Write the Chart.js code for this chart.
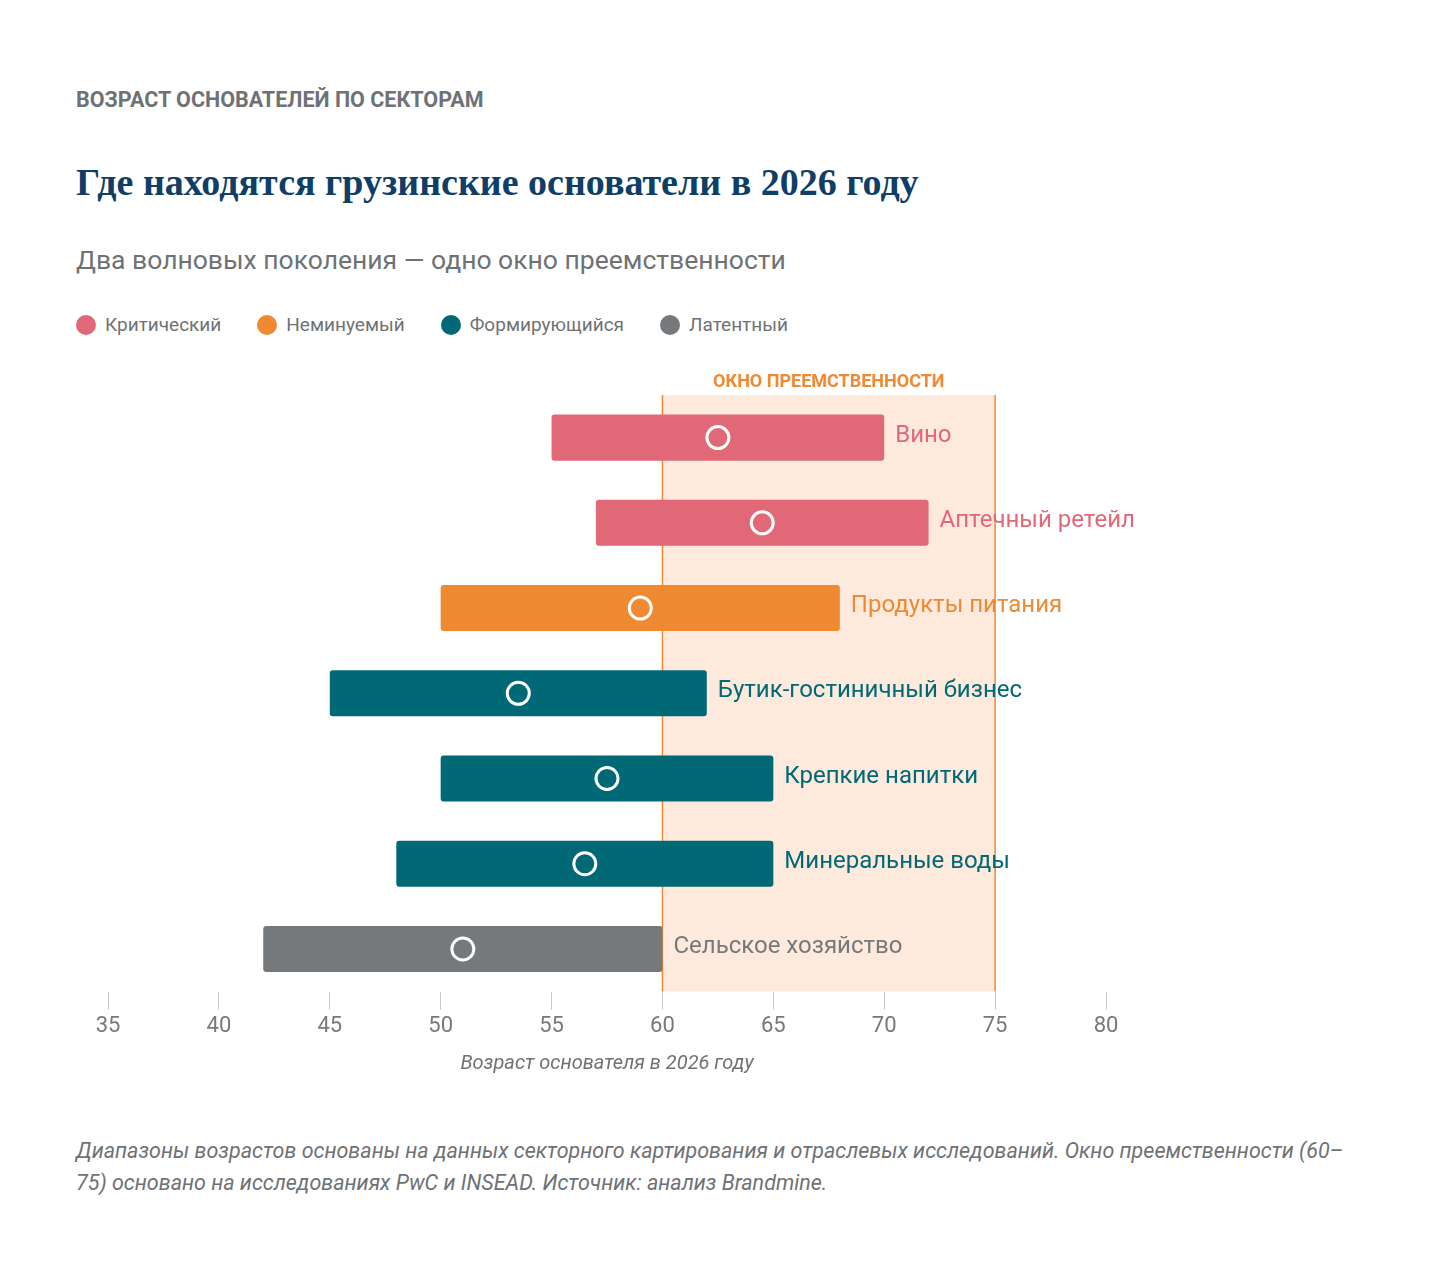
<!DOCTYPE html>
<html><head><meta charset="utf-8">
<script src="https://cdn.jsdelivr.net/npm/chart.js@4"></script>
<style>
body{margin:0;background:#fff;font-family:Roboto,"Noto Sans",sans-serif;}
#wrap{position:relative;width:1436px;height:1282px;}
.t{position:absolute;left:76px;white-space:nowrap;}
#kick{top:87px;font-size:21.5px;font-weight:700;color:#6f7275;}
#title{top:160px;font-family:"Liberation Serif",serif;font-size:38px;font-weight:700;color:#0f3e67;}
#sub{top:244px;font-size:26.5px;color:#6f7275;}
#legend{top:313px;font-size:19px;color:#6f7275;display:flex;gap:36px;}
#legend span{display:flex;align-items:center;}
#legend i{display:inline-block;width:20px;height:20px;border-radius:50%;margin-right:9px;}
#foot{top:1135px;font-size:21.5px;font-style:italic;color:#6f7275;line-height:32px;white-space:normal;width:1290px;}
</style></head><body><div id="wrap">
<div class="t" id="kick">ВОЗРАСТ ОСНОВАТЕЛЕЙ ПО СЕКТОРАМ</div>
<div class="t" id="title">Где находятся грузинские основатели в 2026 году</div>
<div class="t" id="sub">Два волновых поколения — одно окно преемственности</div>
<div class="t" id="legend"></div>
<div style="position:absolute;left:0;top:360px;width:1436px;height:720px"><canvas id="cv"></canvas></div>
<div class="t" id="foot">Диапазоны возрастов основаны на данных секторного картирования и отраслевых исследований. Окно преемственности (60–75) основано на исследованиях PwC и INSEAD. Источник: анализ Brandmine.</div>
</div>
<script>
const sectors=["Вино","Аптечный ретейл","Продукты питания","Бутик-гостиничный бизнес","Крепкие напитки","Минеральные воды","Сельское хозяйство"];
const minAge=[55,57,50,45,50,48,42];
const maxAge=[70,72,68,62,65,65,60];
const median=[62.5,64.5,59,53.5,57.5,56.5,51];
const group=[0,0,1,2,2,2,3];
const groupNames=["Критический","Неминуемый","Формирующийся","Латентный"];
const groupColors=["#e06877","#ef8a32","#016875","#76797b"];
const windowRange=[60,75];
const xTicks=[35,40,45,50,55,60,65,70,75,80];

document.getElementById('legend').innerHTML=groupNames.map((n,i)=>`<span><i style="background:${groupColors[i]}"></i>${n}</span>`).join('');

const windowPlugin={id:'win',beforeDatasetsDraw(c){
  const {ctx,chartArea:a,scales:{x}}=c;
  const x0=x.getPixelForValue(windowRange[0]),x1=x.getPixelForValue(windowRange[1]);
  ctx.save();ctx.fillStyle='#fdeadc';ctx.fillRect(x0,a.top,x1-x0,a.bottom-a.top);
  ctx.strokeStyle='#ef8a32';ctx.lineWidth=1.5;
  ctx.beginPath();ctx.moveTo(x0,a.top);ctx.lineTo(x0,a.bottom);ctx.moveTo(x1,a.top);ctx.lineTo(x1,a.bottom);ctx.stroke();
  ctx.fillStyle='#ef8a32';ctx.font='bold 18px Roboto';ctx.textAlign='center';ctx.textBaseline='bottom';
  ctx.fillText('ОКНО ПРЕЕМСТВЕННОСТИ',(x0+x1)/2,a.top-4);ctx.restore();
},afterDatasetsDraw(c){
  const {ctx,scales:{x,y}}=c;ctx.save();ctx.font='24px Roboto';ctx.textBaseline='middle';ctx.textAlign='left';
  sectors.forEach((s,i)=>{ctx.fillStyle=groupColors[group[i]];ctx.fillText(s,x.getPixelForValue(maxAge[i])+11,y.getPixelForValue(i)-2);});
  ctx.restore();
}};

new Chart(document.getElementById('cv'),{
  data:{labels:sectors,datasets:[
    {type:'line',data:median.map((m,i)=>({x:m,y:sectors[i]})),showLine:false,pointRadius:11,pointHoverRadius:11,pointBorderWidth:3,pointBorderColor:'#fff',pointBackgroundColor:'rgba(0,0,0,0)',order:0},
    {type:'bar',data:minAge.map((m,i)=>[m,maxAge[i]]),backgroundColor:group.map(g=>groupColors[g]),borderRadius:3,borderSkipped:false,barPercentage:0.54,categoryPercentage:1,order:1}
  ]},
  plugins:[windowPlugin],
  options:{indexAxis:'y',responsive:true,maintainAspectRatio:false,animation:false,
    layout:{padding:{left:108,right:330,top:35,bottom:0}},
    plugins:{legend:{display:false},tooltip:{enabled:false}},
    scales:{
      y:{display:false},
      x:{type:'linear',min:35,max:80,afterBuildTicks:a=>{a.ticks=xTicks.map(v=>({value:v}));},
        grid:{drawOnChartArea:false,tickLength:18,color:'#c8c8c8'},border:{display:false},
        ticks:{color:'#76797b',font:{size:22,family:'Roboto'},padding:4},
        title:{display:true,text:'Возраст основателя в 2026 году',color:'#6f7275',font:{size:20,style:'italic',family:'Roboto'},padding:{top:8}}}
    }}
});
</script></body></html>
